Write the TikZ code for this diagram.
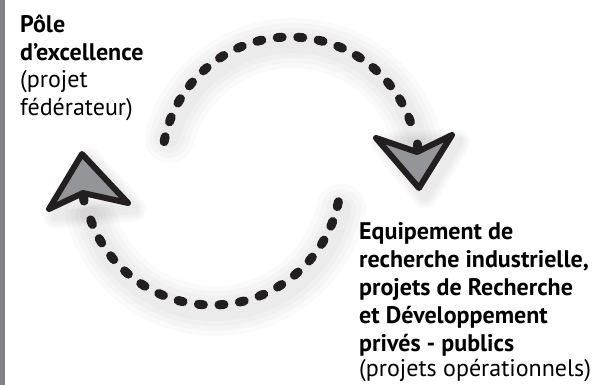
\documentclass[tikz,border=0pt]{standalone}
\usepackage{fontspec}
\setmainfont{PT Sans}
\usetikzlibrary{calc}
\definecolor{ink}{HTML}{231F20}
\definecolor{headfill}{HTML}{939598}
\definecolor{barcol}{HTML}{808285}
\tikzset{
  dotline/.style={draw=ink, line width=9pt, line cap=round, dash pattern=on 5pt off 15.6pt},
  stem/.style={draw=ink, line width=9pt, line cap=round},
  head/.style={draw=ink, fill=headfill, line width=6pt, line join=round},
  glow/.style={draw=black, line cap=round, opacity=0.018},
  label/.style={anchor=base west, inner sep=0pt, font=\fontsize{24}{27.5}\selectfont}
}
\begin{document}
\begin{tikzpicture}[x=1pt,y=-1pt]
\useasboundingbox (0,0) rectangle (603,385);
\fill[white] (0,0) rectangle (603,385);
\fill[barcol] (0,0) rectangle (5,385);
% soft shadows
\foreach \w in {50,40,30,20}{
  \draw[glow, line width=\w pt] ($(293,171)+(195:128)$) arc[start angle=195, end angle=345, radius=128];
  \draw[glow, line width=\w pt] ($(215,182)+(12:129)$) arc[start angle=12, end angle=165, radius=129];
  \draw[glow, line width=\w pt*0.5, line join=round] (384,144) -- (458,142) -- (425,196) -- cycle;
  \draw[glow, line width=\w pt*0.5, line join=round] (89,160) -- (134,209) -- (56,216) -- cycle;
}
% top arc
\coordinate (tc) at (290,165);
\coordinate (ts) at ($(tc)+(190.5:128)$);
\draw[dotline] (ts) arc[start angle=190.5, end angle=346, radius=128];
\coordinate (tn) at (417,152);
\coordinate (tstem) at (417,144);
\draw[stem] (tstem) -- (tn);
\draw[head] (376,138) -- (tn) -- (452,135) -- (419,188) -- cycle;
% bottom arc
\coordinate (bc) at (212,176);
\coordinate (bs) at ($(bc)+(11.5:129)$);
\draw[dotline] (bs) arc[start angle=11.5, end angle=165, radius=129];
\coordinate (bn) at (83,193);
\coordinate (bstem) at (84,201);
\draw[stem] (bstem) -- (bn);
\draw[head] (82,154) -- (128,203) -- (bn) -- (49,209) -- cycle;
% labels
\node[label] (pole) at (20,33) {\parbox[t]{200pt}{\raggedright\textbf{Pôle}\\\textbf{d’excellence}\\(projet\\fédérateur)}};
\node[label, font=\fontsize{24}{28}\selectfont] (equip) at (359,240) {\parbox[t]{260pt}{\raggedright\textbf{Equipement de}\\\textbf{recherche industrielle,}\\\textbf{projets de Recherche}\\\textbf{et Développement}\\\textbf{privés - publics}\\[-3pt](projets opérationnels)}};
\end{tikzpicture}
\end{document}
